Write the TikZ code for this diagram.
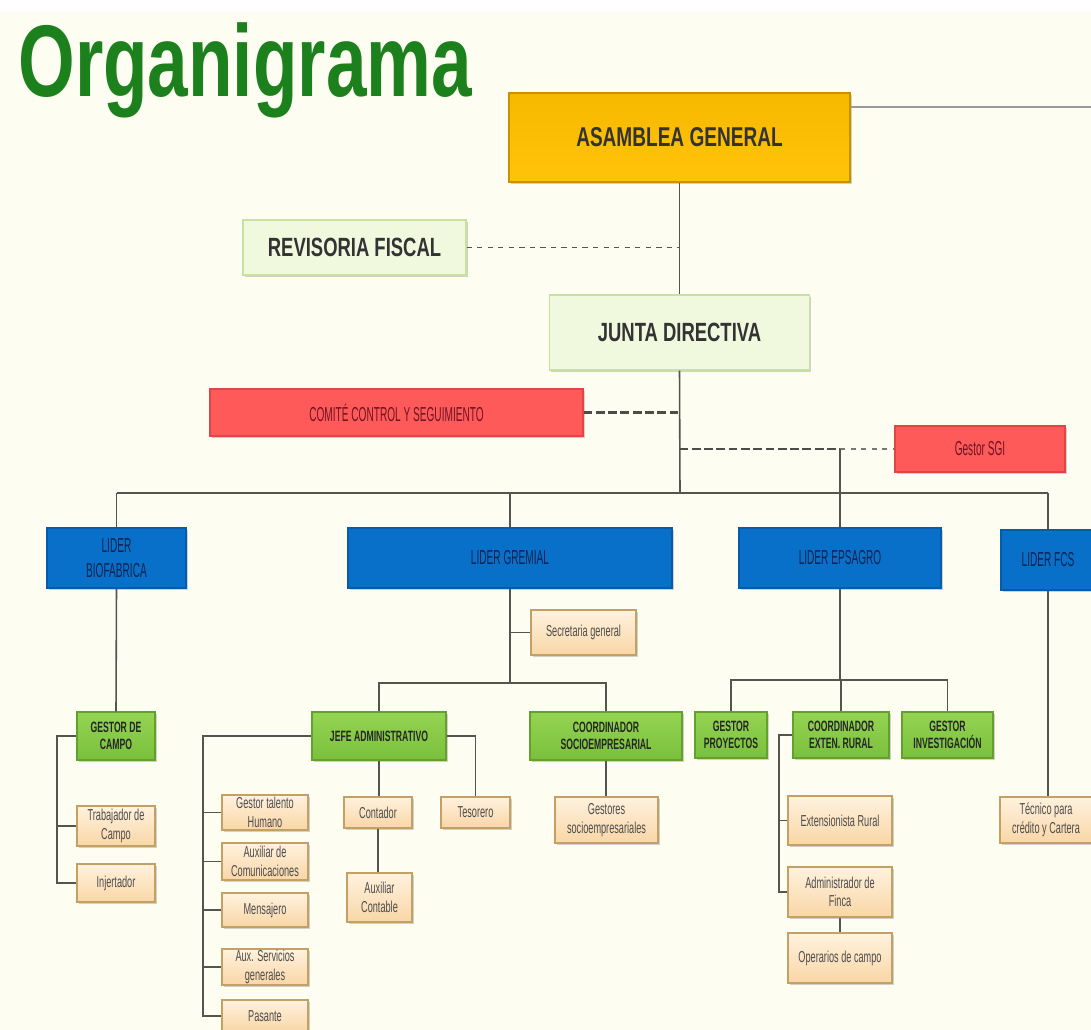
\documentclass[tikz,border=0pt]{standalone}
\usepackage{fontspec}
\setmainfont{Liberation Sans}
\newfontfamily\condfont{Liberation Sans}[FakeStretch=0.58]
\newfontfamily\tallfont{Liberation Sans}[FakeStretch=0.5]
\newfontfamily\headfont{Liberation Sans}[FakeStretch=0.7]
\newfontfamily\titlefont{Liberation Sans}[FakeStretch=0.715]
\usepackage{tikz}
\usetikzlibrary{shadows}

\definecolor{cream}{RGB}{253,253,242}
\definecolor{titlegreen}{RGB}{28,128,28}
\definecolor{linegray}{RGB}{85,85,80}
\definecolor{goldtop}{RGB}{248,184,0}
\definecolor{goldbot}{RGB}{255,196,10}
\definecolor{palegreen}{RGB}{240,248,222}
\definecolor{paleedge}{RGB}{200,224,160}
\definecolor{redfill}{RGB}{255,90,90}
\definecolor{rededge}{RGB}{225,70,70}
\definecolor{redtext}{RGB}{110,20,35}
\definecolor{liderfill}{RGB}{8,112,200}
\definecolor{lideredge}{RGB}{6,92,170}
\definecolor{lidertext}{RGB}{15,35,80}
\definecolor{greentop}{RGB}{148,212,82}
\definecolor{greenbot}{RGB}{122,192,60}
\definecolor{greenedge}{RGB}{100,160,45}
\definecolor{peachtop}{RGB}{255,242,222}
\definecolor{peachbot}{RGB}{249,214,166}
\definecolor{peachedge}{RGB}{196,160,100}

\begin{document}
\begin{tikzpicture}[x=0.02cm, y=-0.02cm,
    sz/.style 2 args={minimum width=#1*0.02cm, minimum height=#2*0.02cm},
    box/.style={inner sep=0pt, align=center, line width=0.6pt,
      drop shadow={opacity=0.35, shadow xshift=1pt, shadow yshift=-1.2pt}},
    goldbox/.style={box, draw=goldtop!80!black, top color=goldtop, bottom color=goldbot,
      text=black!80, font=\headfont\bfseries\fontsize{15.5}{17}\selectfont},
    palebox/.style={box, draw=paleedge, fill=palegreen,
      text=black!80, font=\headfont\bfseries\fontsize{15}{17}\selectfont},
    redbox/.style={box, draw=rededge, fill=redfill,
      text=redtext, font=\tallfont\fontsize{11.5}{13}\selectfont},
    liderbox/.style={box, draw=lideredge, fill=liderfill,
      text=lidertext, font=\tallfont\fontsize{11.5}{14}\selectfont},
    greenbox/.style={box, draw=greenedge, top color=greentop, bottom color=greenbot,
      text=black!85, font=\condfont\bfseries\fontsize{8.5}{10}\selectfont},
    peachbox/.style={box, draw=peachedge, top color=peachtop, bottom color=peachbot,
      text=black!70, font=\condfont\fontsize{9}{10.5}\selectfont},
    link/.style={draw=linegray, line width=0.9pt},
    dashlink/.style={draw=linegray, line width=0.9pt, dashed},
    thickdash/.style={draw=linegray!90!black, line width=1.6pt, dash pattern=on 5pt off 2pt}]

    \useasboundingbox (0,0) rectangle (1091,1030);
    \clip (0,0) rectangle (1091,1030);
    % background
    \fill[cream] (0,0) rectangle (1091,1030);
    \fill[white] (0,0) rectangle (1091,12);

    % title
    \node[anchor=base west, inner sep=0pt, text=titlegreen,
      font=\titlefont\bfseries\fontsize{58}{60}\selectfont] (title) at (18,97) {Organigrama};

    % top level
    \node[goldbox, sz={341}{89}] (asam) at (679.5,137.5) {ASAMBLEA GENERAL};
    \draw[black!40, line width=1.4pt] (asam.east |- 0,107) -- (1091,107);
    \node[palebox, sz={223}{55}] (revi) at (354.5,247.5) {REVISORIA FISCAL};
    \node[palebox, sz={260}{75}] (junta) at (679.5,332.5) {JUNTA DIRECTIVA};
    \node[redbox, sz={373}{47}] (comite) at (396.5,412.5) {COMITÉ CONTROL Y SEGUIMIENTO};
    \node[redbox, sz={170}{46}] (sgi) at (980,449) {Gestor SGI};

    % leaders
    \node[liderbox, sz={139}{60}] (lbio) at (116.5,558) {LIDER\\BIOFABRICA};
    \node[liderbox, sz={324}{60}] (lgre) at (510,558) {LIDER GREMIAL};
    \node[liderbox, sz={202}{60}] (leps) at (840,558) {LIDER EPSAGRO};
    \node[liderbox, sz={94}{60}] (lfcs) at (1048,560) {LIDER FCS};

    % biofabrica
    \node[greenbox, sz={78}{48}] (gcampo) at (116,736) {GESTOR DE\\CAMPO};
    \node[peachbox, sz={78}{40}] (trab) at (116,826) {Trabajador de\\Campo};
    \node[peachbox, sz={78}{38}] (injer) at (116,883) {Injertador};

    % gremial
    \node[peachbox, sz={105}{45}] (secre) at (583.5,632.5) {Secretaria general};
    \node[greenbox, sz={134}{48}] (jefe) at (379,736) {JEFE ADMINISTRATIVO};
    \node[greenbox, sz={152}{48}] (coso) at (606,736) {COORDINADOR\\SOCIOEMPRESARIAL};
    \node[peachbox, sz={86}{35}] (talento) at (265,812.5) {Gestor talento\\Humano};
    \node[peachbox, sz={86}{37}] (comun) at (265,861.5) {Auxiliar de\\Comunicaciones};
    \node[peachbox, sz={86}{34}] (mensa) at (265,910) {Mensajero};
    \node[peachbox, sz={86}{36}] (servi) at (265,967) {Aux. Servicios\\generales};
    \node[peachbox, sz={86}{32}] (pasan) at (265,1016) {Pasante};
    \node[peachbox, sz={68}{31}] (conta) at (378,812.5) {Contador};
    \node[peachbox, sz={69}{31}] (teso) at (475.5,812.5) {Tesorero};
    \node[peachbox, sz={65}{49}] (auxcon) at (379.5,897.5) {Auxiliar\\Contable};
    \node[peachbox, sz={103}{46}] (gestso) at (606.5,820) {Gestores\\socioempresariales};

    % epsagro
    \node[greenbox, sz={72}{46}] (gproy) at (731,735) {GESTOR\\PROYECTOS};
    \node[greenbox, sz={96}{46}] (coext) at (841,735) {COORDINADOR\\EXTEN. RURAL};
    \node[greenbox, sz={91}{46}] (ginv) at (947.5,735) {GESTOR\\INVESTIGACIÓN};
    \node[peachbox, sz={104}{49}] (exten) at (840,820.5) {Extensionista Rural};
    \node[peachbox, sz={104}{50}] (admin) at (840,892) {Administrador de\\Finca};
    \node[peachbox, sz={104}{50}] (opera) at (840,958) {Operarios de campo};

    % fcs
    \node[peachbox, sz={92}{46}] (tecni) at (1046,820) {Técnico para\\crédito y Cartera};

    % upper connectors
    \coordinate (busc) at (680,493);
    \coordinate (sgic) at (840,449);
    \draw[link] (asam.south) -- (junta.north);
    \draw[link] (junta.south) -- (busc);
    \draw[dashlink] (revi.east) -- (revi.east -| junta.south);
    \draw[thickdash] (comite.east) -- (comite.east -| junta.south);
    \draw[thickdash] (sgic -| junta.south) -- (sgic);
    \draw[dashlink, draw=linegray!80] (sgic) -- (sgi.west);
    \draw[link] (sgic) -- (leps.north);
    \draw[link] (lbio.north |- busc) -- (lfcs.north |- busc);
    \draw[link] (lbio.north |- busc) -- (lbio.north);
    \draw[link] (lgre.north |- busc) -- (lgre.north);
    \draw[link] (lfcs.north |- busc) -- (lfcs.north);

    % biofabrica connectors
    \draw[link] (lbio.south) -- (gcampo.north);
    \coordinate (gcl) at (57,736);
    \draw[link] (gcampo.west) -- (gcl) |- (injer.west);
    \draw[link] (gcl) |- (trab.west);

    % gremial connectors
    \coordinate (grebus) at (510,683);
    \draw[link] (lgre.south) -- (grebus);
    \draw[link] (secre.west) -- (secre.west -| lgre.south);
    \draw[link] (jefe.north) |- (grebus) -| (coso.north);
    \coordinate (jefel) at (203,736);
    \draw[link] (jefe.west) -- (jefel) |- (pasan.west);
    \foreach \n in {talento, comun, mensa, servi}
      \draw[link] (jefel) |- (\n.west);
    \draw[link] (jefe.east) -| (teso.north);
    \draw[link] (jefe.south) -- (jefe.south |- conta.north);
    \draw[link] (conta.south) -- (conta.south |- auxcon.north);
    \draw[link] (coso.south) -- (coso.south |- gestso.north);

    % epsagro connectors
    \coordinate (epsbus) at (840,680);
    \draw[link] (leps.south) -- (epsbus);
    \draw[link] (gproy.north) |- (epsbus) -| (ginv.north);
    \draw[link] (epsbus -| coext.north) -- (coext.north);
    \coordinate (extl) at (779,735);
    \draw[link] (coext.west) -- (extl) |- (admin.west);
    \draw[link] (extl) |- (exten.west);
    \draw[link] (admin.south) -- (opera.north);

    % fcs connector
    \draw[link] (lfcs.south) -- (lfcs.south |- tecni.north);
\end{tikzpicture}
\end{document}
